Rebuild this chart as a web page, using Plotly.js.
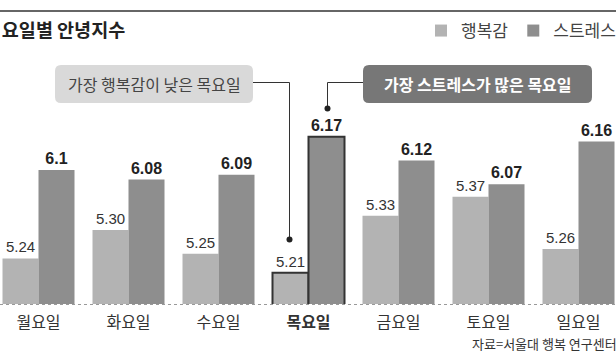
<!DOCTYPE html>
<html><head><meta charset="utf-8">
<script src="https://cdn.plot.ly/plotly-3.0.1.min.js"></script>
<style>html,body{margin:0;padding:0;background:#fff}#c{width:616px;height:357px}</style>
</head><body><div id="c"></div>
<script>
const categories = ['월요일','화요일','수요일','목요일','금요일','토요일','일요일'];
const happiness = [5.24, 5.30, 5.25, 5.21, 5.33, 5.37, 5.26];
const stress = [6.1, 6.08, 6.09, 6.17, 6.12, 6.07, 6.16];
const seriesNames = ['행복감','스트레스'];
const highlightIndex = 3;
const titleText = '요일별 안녕지수';
const note1 = '가장 행복감이 낮은 목요일';
const note2 = '가장 스트레스가 많은 목요일';
const sourceText = '자료=서울대 행복 연구센터';

const W = 616, H = 357;
const px = x => x / W, py = y => 1 - y / H;
const FONT = '"Noto Sans CJK KR", "Liberation Sans", sans-serif';
const NUMFONT = '"Liberation Sans", Arial, sans-serif';

const lineW = categories.map((c,i) => i === highlightIndex ? 2 : 0);
const tickText = categories.map((c,i) => i === highlightIndex ? '<b>' + c + '</b>' : c);

const traces = [
  {type:'bar', name: seriesNames[0], x: categories, y: happiness, yaxis:'y',
   width: 0.4, offset: -0.4,
   marker:{color:'#b3b3b3', line:{color:'#333', width: lineW}},
   text: happiness.map(v => v.toFixed(2)), textposition:'outside', cliponaxis:false,
   textfont:{family: NUMFONT, size:15, color:'#333'}, hoverinfo:'skip'},
  {type:'bar', name: seriesNames[1], x: categories, y: stress, yaxis:'y2',
   width: 0.4, offset: 0,
   marker:{color:'#8e8e8e', line:{color:'#333', width: lineW}},
   text: stress.map(v => '<b>' + String(v) + '</b>'), textposition:'outside', cliponaxis:false,
   textfont:{family: NUMFONT, size:16, color:'#222'}, hoverinfo:'skip'}
];

function roundRect(x0,y0,x1,y1,r){
  const a=px(x0),b=px(x1),t=py(y0),u=py(y1),rx=r/W,ry=r/H;
  return `M${a+rx},${t} L${b-rx},${t} Q${b},${t} ${b},${t-ry} L${b},${u+ry} Q${b},${u} ${b-rx},${u} L${a+rx},${u} Q${a},${u} ${a},${u+ry} L${a},${t-ry} Q${a},${t} ${a+rx},${t} Z`;
}
const P = {xref:'paper', yref:'paper'};
const shapes = [
  Object.assign({type:'line', x0:0, x1:1, y0:py(11), y1:py(11), line:{color:'#666', width:2}}, P),
  Object.assign({type:'line', x0:0, x1:1, y0:py(304.5), y1:py(304.5), line:{color:'#999', width:1, dash:'dot'}, layer:'above'}, P),
  Object.assign({type:'path', path: roundRect(55,65,253,103,6), fillcolor:'#d9d9d9', line:{width:0}}, P),
  Object.assign({type:'path', path: roundRect(363,65,592,103,6), fillcolor:'#777777', line:{width:0}}, P),
  Object.assign({type:'path', path: `M${px(253)},${py(82.5)} L${px(289.5)},${py(82.5)} L${px(289.5)},${py(239.5)}`, line:{color:'#333', width:1}}, P),
  Object.assign({type:'circle', x0:px(286.5), x1:px(292.5), y0:py(242.5), y1:py(236.5), fillcolor:'#222', line:{width:0}}, P),
  Object.assign({type:'path', path: `M${px(363)},${py(82.5)} L${px(327.5)},${py(82.5)} L${px(327.5)},${py(108.5)}`, line:{color:'#333', width:1}}, P),
  Object.assign({type:'circle', x0:px(324.5), x1:px(330.5), y0:py(111.5), y1:py(105.5), fillcolor:'#222', line:{width:0}}, P)
];

const annotations = [
  Object.assign({x:px(154), y:py(84), text: note1, showarrow:false, xanchor:'center', yanchor:'middle',
    font:{family:FONT, size:16, color:'#444'}}, P),
  Object.assign({x:px(477.5), y:py(84), text: '<b>' + note2 + '</b>', showarrow:false, xanchor:'center', yanchor:'middle',
    font:{family:FONT, size:16, color:'#fff'}}, P),
  Object.assign({x:1, y:py(343), xshift:3, text: sourceText, showarrow:false, xanchor:'right', yanchor:'middle',
    font:{family:FONT, size:13, color:'#333'}}, P)
];

const ppu = 475, span = 204 / ppu;
const layout = {
  width: W, height: H, margin:{l:0, r:0, t:0, b:0, autoexpand:false},
  paper_bgcolor:'#fff', plot_bgcolor:'rgba(0,0,0,0)',
  title:{text:'<b>' + titleText + '</b>', x:0.003, xanchor:'left', xref:'paper', y:py(31), yanchor:'middle', yref:'container',
    font:{family:FONT, size:18.5, color:'#222'}},
  showlegend:true,
  legend:{orientation:'h', x:px(421), y:py(31), xanchor:'left', yanchor:'middle', font:{family:FONT, size:17, color:'#444'},
    itemwidth:30, bgcolor:'rgba(0,0,0,0)'},
  xaxis:{type:'category', range:[-38.5/90, (W-38.5)/90], domain:[0,1], showgrid:false, zeroline:false, showline:false,
    ticks:'', ticklabelstandoff:7, tickvals: categories, ticktext: tickText, tickfont:{family:FONT, size:16, color:'#333'}, automargin:false, fixedrange:true},
  yaxis:{domain:[py(304), py(100)], range:[5.144, 5.144 + span], visible:false, fixedrange:true},
  yaxis2:{overlaying:'y', range:[5.818, 5.818 + span], visible:false, fixedrange:true},
  barmode:'overlay',
  shapes, annotations
};
Plotly.newPlot('c', traces, layout, {staticPlot:true, displayModeBar:false});
</script></body></html>
